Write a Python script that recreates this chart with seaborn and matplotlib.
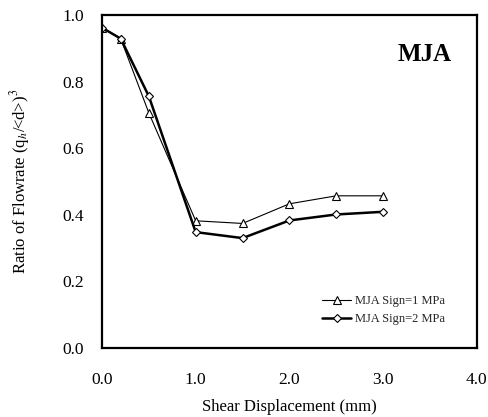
import matplotlib
matplotlib.use("Agg")
import matplotlib.pyplot as plt
import seaborn as sns
import pandas as pd

# Shear displacement (mm) and flow-rate ratio for the two normal stress levels
displacement = [0.0, 0.2, 0.5, 1.0, 1.5, 2.0, 2.5, 3.0]
ratio_sign1 = [0.962, 0.929, 0.706, 0.382, 0.374, 0.433, 0.457, 0.457]
ratio_sign2 = [0.962, 0.929, 0.756, 0.348, 0.330, 0.383, 0.401, 0.409]
series_labels = ["MJA Sign=1 MPa", "MJA Sign=2 MPa"]
x_ticks = [0.0, 1.0, 2.0, 3.0, 4.0]
y_ticks = [0.0, 0.2, 0.4, 0.6, 0.8, 1.0]

sns.set_theme(style="white")
plt.rcParams["font.family"] = ["Liberation Serif", "DejaVu Serif"]
plt.rcParams["mathtext.fontset"] = "stix"

df1 = pd.DataFrame({"x": displacement, "y": ratio_sign1})
df2 = pd.DataFrame({"x": displacement, "y": ratio_sign2})

fig = plt.figure(figsize=(4.88, 4.17), dpi=100)
ax = fig.add_axes([0.209, 0.1655, 0.768, 0.7985])

sns.lineplot(data=df1, x="x", y="y", ax=ax, color="black", linewidth=0.8,
             marker="^", markersize=6, markerfacecolor="white",
             markeredgecolor="black", markeredgewidth=0.8,
             label=series_labels[0])
sns.lineplot(data=df2, x="x", y="y", ax=ax, color="black", linewidth=1.8,
             marker="D", markersize=4.5, markerfacecolor="white",
             markeredgecolor="black", markeredgewidth=0.8,
             label=series_labels[1])

ax.set_xlim(0, 4)
ax.set_ylim(0, 1)
ax.set_xticks(x_ticks)
ax.set_yticks(y_ticks)
ax.set_xticklabels([f"{v:.1f}" for v in x_ticks])
ax.set_yticklabels([f"{v:.1f}" for v in y_ticks])
ax.tick_params(axis="both", direction="in", length=5, width=1.0,
               labelsize=12.5, colors="black")
ax.tick_params(axis="x", pad=17)
ax.tick_params(axis="y", pad=13)

for sp in ax.spines.values():
    sp.set_visible(True)
    sp.set_color("black")
    sp.set_linewidth(1.6)

ax.set_xlabel("Shear Displacement (mm)", fontsize=12, color="black", labelpad=8)
ax.set_ylabel(r"Ratio of Flowrate (q$_h$/<d>)$^3$", fontsize=12, color="black")
ax.yaxis.set_label_coords(-0.187, 0.5)

ax.text(0.861, 0.88, "MJA", transform=ax.transAxes, fontsize=18,
        fontweight="bold", ha="center", va="center", color="black")

ax.legend(loc="upper left", bbox_to_anchor=(0.575, 0.173), frameon=False,
          fontsize=9, handlelength=2.3, handletextpad=0.3, labelspacing=0.45,
          borderaxespad=0)

fig.savefig("out.png", dpi=100, facecolor="white")
